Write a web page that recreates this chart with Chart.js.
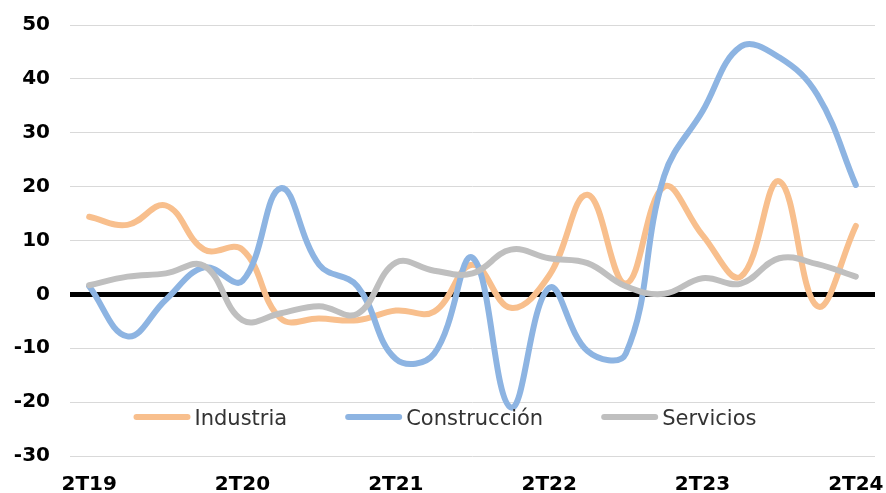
<!DOCTYPE html>
<html>
<head>
<meta charset="utf-8">
<script src="https://cdn.jsdelivr.net/npm/chart.js@4.4.1/dist/chart.umd.min.js"></script>
<style>
  html, body { margin: 0; padding: 0; background: #fff; }
  #wrap { width: 886px; height: 493px; position: relative; }
</style>
</head>
<body>
<div id="wrap"><canvas id="chart"></canvas></div>
<script>
const quarters = [
  "2T19", "3T19", "4T19", "1T20", "2T20", "3T20", "4T20",
  "1T21", "2T21", "3T21", "4T21", "1T22", "2T22", "3T22",
  "4T22", "1T23", "2T23", "3T23", "4T23", "1T24", "2T24",
];

const industria = [
  14.4, 12.9, 16.5, 8.3, 8.3, -4.5, -4.5, -4.8, -3.0, -3.2, 5.5,
  -2.5, 3.5, 18.5, 2.0, 20.0, 11.0, 3.3, 21.0, -2.2, 12.7,
];

const construccion = [
  1.5, -7.8, -1.0, 5.0, 2.5, 19.7, 5.5, 1.5, -12.0, -11.0, 6.8,
  -21.0, 1.2, -10.5, -11.0, 22.0, 34.0, 46.0, 44.0, 37.0, 20.3,
];

const servicios = [
  1.7, 3.3, 3.9, 5.3, -4.8, -3.5, -2.2, -3.6, 5.9, 4.4, 3.9,
  8.3, 6.7, 5.8, 1.5, 0.1, 3.0, 2.0, 6.7, 5.6, 3.3,
];

const yMin = -30;
const yMax = 50;
const yStep = 10;
const labelEvery = 4;

const seriesStyle = (label, data, color, order) => ({
  label,
  data,
  order,
  borderColor: color,
  backgroundColor: color,
  borderWidth: 6,
  borderCapStyle: "round",
  borderJoinStyle: "round",
  tension: 0.4,
  pointRadius: 0,
  fill: false,
});

// legend sits inside the plot, under the lines' lowest dip
const innerLegend = {
  id: "innerLegend",
  afterDatasetsDraw(chart) {
    const ctx = chart.ctx;
    const items = chart.data.datasets;
    const lineW = 57;
    const gap = 4;
    const spacing = 58;
    const y = 417;

    ctx.save();
    ctx.font = "21px 'DejaVu Sans'";
    const widths = items.map((ds) => lineW + gap + ctx.measureText(ds.label).width);
    const total = widths.reduce((a, b) => a + b, 0) + spacing * (items.length - 1);
    let x = 445 - total / 2;

    items.forEach((ds, i) => {
      ctx.strokeStyle = ds.borderColor;
      ctx.lineWidth = 6;
      ctx.lineCap = "round";
      ctx.beginPath();
      ctx.moveTo(x + 3, y);
      ctx.lineTo(x + lineW - 3, y);
      ctx.stroke();

      ctx.fillStyle = "#333333";
      ctx.textBaseline = "alphabetic";
      ctx.textAlign = "left";
      ctx.fillText(ds.label, x + lineW + gap, y + 8);
      x += widths[i] + spacing;
    });
    ctx.restore();
  },
};

new Chart(document.getElementById("chart").getContext("2d"), {
  type: "line",
  data: {
    labels: quarters,
    datasets: [
      seriesStyle("Industria", industria, "#F8BF8D", 2),
      seriesStyle("Construcción", construccion, "#8DB4E2", 1),
      seriesStyle("Servicios", servicios, "#BFBFBF", 0),
    ],
  },
  plugins: [innerLegend],
  options: {
    responsive: true,
    maintainAspectRatio: false,
    animation: false,
    layout: {
      padding: { top: 25, right: 11, left: 0, bottom: 0 },
    },
    plugins: {
      legend: { display: false },
      tooltip: { enabled: false },
    },
    scales: {
      x: {
        offset: true,
        grid: { display: false },
        border: { display: false },
        afterFit: (scale) => {
          scale.height = 37;
          scale.paddingLeft = 0;
          scale.paddingRight = 0;
        },
        ticks: {
          autoSkip: false,
          maxRotation: 0,
          minRotation: 0,
          padding: 9,
          color: "#000000",
          font: { family: "'DejaVu Sans'", size: 20, weight: "bold" },
          callback: function (value, index) {
            return index % labelEvery === 0 ? this.getLabelForValue(value) : "";
          },
        },
      },
      y: {
        min: yMin,
        max: yMax,
        border: { display: false },
        afterFit: (scale) => {
          scale.width = 70;
          scale.paddingTop = 0;
          scale.paddingBottom = 0;
        },
        grid: {
          drawTicks: false,
          color: (ctx) => (ctx.tick && ctx.tick.value === 0 ? "#000000" : "#D9D9D9"),
          lineWidth: (ctx) => (ctx.tick && ctx.tick.value === 0 ? 5 : 1),
        },
        ticks: {
          stepSize: yStep,
          padding: 20,
          color: "#000000",
          font: { family: "'DejaVu Sans'", size: 20, weight: "bold" },
        },
      },
    },
  },
});
</script>
</body>
</html>
